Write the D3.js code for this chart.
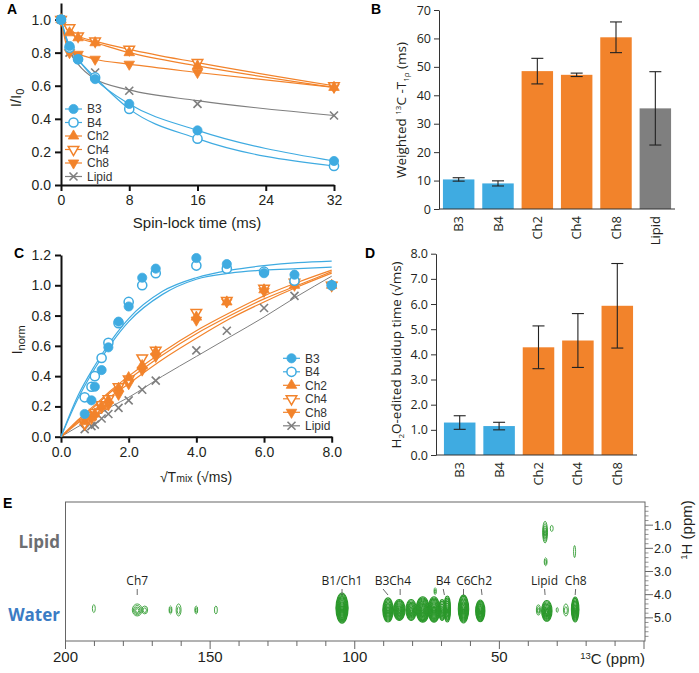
<!DOCTYPE html>
<html>
<head>
<meta charset="utf-8">
<script src="https://cdnjs.cloudflare.com/ajax/libs/d3/7.8.5/d3.min.js"></script>
<style>
body { margin: 0; background: #fff; }
svg  { display: block; font-family: "Liberation Sans", Arial, sans-serif; }
</style>
</head>
<body>
<svg id="fig" width="699" height="673"></svg>
<script>
'use strict';

// ---- A: 13C-T1rho decay (I/I0 vs spin-lock time) ----
var lockTimes     = [0, 1, 2, 4, 8, 16, 32];
var decayB3       = [1.00, 0.84, 0.76, 0.64, 0.49, 0.33, 0.145];
var decayB4       = [1.00, 0.83, 0.76, 0.65, 0.46, 0.28, 0.115];
var decayCh2      = [1.00, 0.92, 0.89, 0.86, 0.80, 0.72, 0.59];
var decayCh4      = [1.00, 0.95, 0.90, 0.87, 0.82, 0.74, 0.60];
var decayCh8      = [1.00, 0.80, 0.79, 0.76, 0.73, 0.68, 0.59];
var decayLipid    = [1.00, 0.80, 0.77, 0.68, 0.57, 0.49, 0.42];
var decayFitLipid = [1.00, 0.81, 0.73, 0.64, 0.575, 0.51, 0.42];

// ---- B: weighted T1rho ----
var t1rhoNames = ['B3', 'B4', 'Ch2', 'Ch4', 'Ch8', 'Lipid'];
var t1rho      = [10.4, 9.0, 48.5, 47.2, 60.4, 35.4];
var t1rhoErr   = [0.6, 0.9, 4.5, 0.6, 5.4, 12.9];

// ---- C: water-edited buildup (Inorm vs sqrt Tmix) ----
var mixRoots   = [0.7, 0.9, 1.0, 1.2, 1.4, 1.7, 2.0, 2.4, 2.8, 4.0, 4.9, 6.0, 6.9, 8.0];
var buildB3    = [0.15, 0.24, 0.33, 0.44, 0.59, 0.76, 0.86, 1.05, 1.11, 1.18, 1.14, 1.08, 1.07, 1.00];
var buildB4    = [0.26, 0.33, 0.40, 0.52, 0.62, 0.75, 0.89, 1.00, 1.08, 1.13, 1.11, 1.09, 1.03, 1.00];
var buildCh2   = [0.10, 0.13, 0.15, 0.20, 0.24, 0.32, 0.39, 0.47, 0.56, 0.79, 0.89, 0.97, 1.00, 1.00];
var buildCh4   = [0.09, 0.14, 0.16, 0.21, 0.25, 0.33, 0.38, 0.52, 0.57, 0.82, 0.90, 0.98, 1.02, 1.00];
var buildCh8   = [0.08, 0.12, 0.14, 0.19, 0.21, 0.28, 0.35, 0.44, 0.53, 0.77, 0.89, 0.96, 1.00, 1.00];
var buildLipid = [0.05, 0.07, 0.08, 0.12, 0.15, 0.19, 0.24, 0.31, 0.37, 0.57, 0.70, 0.85, 0.93, null];
var fitRoots   = [0, 0.5, 1, 1.5, 2, 3, 4, 5, 6, 7, 8];
var fitB3      = [0, 0.27, 0.47, 0.64, 0.78, 0.96, 1.05, 1.10, 1.13, 1.15, 1.16];
var fitB4      = [0, 0.25, 0.45, 0.62, 0.76, 0.94, 1.04, 1.08, 1.10, 1.11, 1.12];
var fitCh2     = [0, 0.11, 0.21, 0.31, 0.40, 0.56, 0.70, 0.82, 0.93, 1.02, 1.10];
var fitCh4     = [0, 0.10, 0.20, 0.30, 0.38, 0.54, 0.68, 0.80, 0.91, 1.00, 1.09];
var fitCh8     = [0, 0.09, 0.18, 0.27, 0.35, 0.51, 0.65, 0.78, 0.89, 0.99, 1.08];
var fitLipid   = [0, 0.066, 0.13, 0.20, 0.26, 0.40, 0.53, 0.66, 0.79, 0.93, 1.06];

// ---- D: H2O-edited buildup time ----
var buildupNames = ['B3', 'B4', 'Ch2', 'Ch4', 'Ch8'];
var buildupTime  = [1.29, 1.15, 4.28, 4.55, 5.93];
var buildupErr   = [0.27, 0.15, 0.85, 1.07, 1.68];

// ---- E: 2D water / lipid edited spectrum ----
var peakC      = [190.2, 175.2, 172.6, 163.7, 160.9, 154.8, 148.0, 104.4, 88.5, 84.6, 80.5, 76.5, 72.6, 69.8, 68.0, 72.2, 62.4, 56.6, 36.5, 33.6, 30.0, 27.0, 23.8, 34.2, 31.9, 34.0, 24.0];
var peakH      = [4.60, 4.66, 4.66, 4.66, 4.66, 4.66, 4.66, 4.58, 4.66, 4.66, 4.66, 4.64, 4.64, 4.66, 4.62, 3.85, 4.62, 4.70, 4.66, 4.70, 4.66, 4.66, 4.64, 1.30, 1.14, 2.58, 2.14];
var peakWidthC = [0.5, 1.7, 1.0, 0.5, 0.85, 0.5, 0.5, 2.1, 1.8, 2.0, 1.8, 2.3, 2.0, 1.2, 1.1, 0.4, 1.8, 1.6, 0.7, 1.8, 0.35, 0.85, 1.3, 0.85, 0.5, 0.5, 0.35];
var peakWidthH = [0.17, 0.26, 0.17, 0.17, 0.26, 0.17, 0.17, 0.65, 0.52, 0.45, 0.45, 0.55, 0.55, 0.45, 0.56, 0.15, 0.60, 0.47, 0.22, 0.45, 0.10, 0.26, 0.54, 0.47, 0.13, 0.17, 0.26];
var peakLevels = [1, 4, 2, 2, 2, 2, 1, 14, 10, 11, 9, 13, 12, 7, 8, 2, 12, 11, 3, 9, 1, 2, 10, 5, 1, 2, 1];
var peakLabels    = ['Ch7', 'B1/Ch1', 'B3', 'Ch4', 'B4', 'C6', 'Ch2', 'Lipid', 'Ch8'];
var peakLabelAt   = [175.2, 104.4, 90.6, 84.3, 69.5, 62.4, 56.3, 34.4, 23.6];
var peakLabelTick = [175.2, 104.4, 88.5, 84.3, 69.0, 62.4, 56.0, 34.2, 23.8];

var BLUE = '#3fabe1', ORANGE = '#f2832b', GRAY = '#7f7f7f', INK = '#231f20';
var MYRIAD = '"Open Sans", "Liberation Sans", sans-serif';

var style = {
    B3:    {color: BLUE,   shape: 'circle',  open: false},
    B4:    {color: BLUE,   shape: 'circle',  open: true},
    Ch2:   {color: ORANGE, shape: 'tri',     open: false},
    Ch4:   {color: ORANGE, shape: 'triDown', open: true},
    Ch8:   {color: ORANGE, shape: 'triDown', open: false},
    Lipid: {color: GRAY,   shape: 'x',       open: false}
};

var svg = d3.select('#fig');

function marker(g, name, px, py) {
    var s = style[name], m;
    if (s.shape === 'x') {
        m = g.append('path').attr('d', 'M-4,-4L4,4M-4,4L4,-4')
            .attr('stroke', s.color).attr('stroke-width', 1.6).attr('fill', 'none');
    } else {
        var sym = s.shape === 'circle' ? d3.symbol(d3.symbolCircle, 66) : d3.symbol(d3.symbolTriangle, 48);
        m = g.append('path').attr('d', sym())
            .attr('fill', s.open ? '#fff' : s.color)
            .attr('stroke', s.color).attr('stroke-width', s.open ? 1.5 : 0.8);
    }
    var rot = s.shape === 'triDown' ? ' rotate(180)' : '';
    m.attr('transform', 'translate(' + px + ',' + py + ')' + rot);
}

function thick(sel) {
    sel.attr('font-size', 14).attr('font-family', '"Liberation Sans", Arial, sans-serif');
    sel.selectAll('path.domain').attr('stroke', '#111').attr('stroke-width', 2);
    sel.selectAll('.tick line').attr('stroke', '#111').attr('stroke-width', 2);
    sel.selectAll('.tick text').attr('fill', INK);
}

function thin(sel) {
    sel.attr('font-size', 12.5).attr('font-family', MYRIAD);
    sel.selectAll('path.domain').attr('stroke', '#333').attr('stroke-width', 1);
    sel.selectAll('.tick line').attr('stroke', '#333').attr('stroke-width', 1);
    sel.selectAll('.tick text').attr('fill', INK);
}

function legend(g, x0, y0) {
    t1rhoNames.forEach(function(n, i) {
        var y = y0 + i * 13.5;
        g.append('line').attr('x1', x0).attr('x2', x0 + 17).attr('y1', y).attr('y2', y)
            .attr('stroke', style[n].color).attr('stroke-width', 1.2);
        marker(g, n, x0 + 8.5, y);
        g.append('text').attr('x', x0 + 22).attr('y', y).attr('dy', '0.35em')
            .attr('font-size', 12).attr('fill', '#333').text(n);
    });
}

function panelLetter(t, x, y) {
    svg.append('text').attr('x', x).attr('y', y).attr('font-weight', 'bold')
        .attr('font-size', 14).attr('fill', '#000').text(t);
}

// ---------------- A ----------------
(function() {
    var x = d3.scaleLinear().domain([0, 32]).range([61, 334]),
        y = d3.scaleLinear().domain([0, 1.1]).range([185, 3]),
        g = svg.append('g');

    g.append('g').attr('transform', 'translate(0,185)')
        .call(d3.axisBottom(x).tickValues([0, 8, 16, 24, 32]).tickSize(6).tickSizeOuter(0).tickPadding(4))
        .call(thick);
    g.append('g').attr('transform', 'translate(61,0)')
        .call(d3.axisLeft(y).tickValues([0, 0.2, 0.4, 0.6, 0.8, 1.0]).tickFormat(d3.format('.1f'))
            .tickSize(6).tickSizeOuter(0).tickPadding(4))
        .call(thick);

    var sets = {B3: decayB3, B4: decayB4, Ch2: decayCh2, Ch4: decayCh4, Ch8: decayCh8, Lipid: decayLipid};
    var line = d3.line().curve(d3.curveMonotoneX)
        .x(function(d, i) { return x(lockTimes[i]); })
        .y(function(d) { return y(d); });

    ['Lipid', 'Ch8', 'Ch4', 'Ch2', 'B4', 'B3'].forEach(function(n) {
        var vals = n === 'Lipid' ? decayFitLipid : sets[n];
        g.append('path').attr('d', line(vals)).attr('fill', 'none')
            .attr('stroke', style[n].color).attr('stroke-width', 1.2);
    });
    ['Lipid', 'Ch8', 'Ch4', 'Ch2', 'B4', 'B3'].forEach(function(n) {
        sets[n].forEach(function(v, i) { marker(g, n, x(lockTimes[i]), y(v)); });
    });

    legend(g, 65, 109);

    g.append('text').attr('transform', 'translate(21,98) rotate(-90)').attr('text-anchor', 'middle')
        .attr('font-size', 15).attr('fill', INK)
        .call(function(t) {
            t.append('tspan').text('I/I');
            t.append('tspan').attr('font-size', 11).attr('dy', 3).text('0');
        });
    g.append('text').attr('x', 197).attr('y', 228).attr('text-anchor', 'middle')
        .attr('font-size', 15).attr('fill', INK).text('Spin-lock time (ms)');
    panelLetter('A', 7, 14);
})();

// ---------------- bar panels ----------------
function barPanel(cfg) {
    var g = svg.append('g'),
        x = d3.scaleBand().domain(cfg.names).range(cfg.xRange).paddingInner(0.2).paddingOuter(0.1),
        y = d3.scaleLinear().domain(cfg.yDomain).range(cfg.yRange);

    g.selectAll('rect.bar').data(cfg.values).enter().append('rect')
        .attr('x', function(d, i) { return x(cfg.names[i]); })
        .attr('width', x.bandwidth())
        .attr('y', function(d) { return y(d); })
        .attr('height', function(d) { return y(0) - y(d); })
        .attr('fill', function(d, i) { return cfg.colors[cfg.names[i]]; });

    cfg.values.forEach(function(v, i) {
        var cx = x(cfg.names[i]) + x.bandwidth() / 2,
            e = cfg.errors[i];
        g.append('line').attr('x1', cx).attr('x2', cx).attr('y1', y(v - e)).attr('y2', y(v + e))
            .attr('stroke', '#222').attr('stroke-width', 1.1);
        [v - e, v + e].forEach(function(w) {
            g.append('line').attr('x1', cx - 6).attr('x2', cx + 6).attr('y1', y(w)).attr('y2', y(w))
                .attr('stroke', '#222').attr('stroke-width', 1.1);
        });
        g.append('text').attr('transform', 'translate(' + cx + ',' + (y(0) + 7) + ') rotate(-90)')
            .attr('text-anchor', 'end').attr('dy', '0.35em')
            .attr('font-family', MYRIAD).attr('font-size', 13).attr('fill', INK).text(cfg.names[i]);
    });

    g.append('line').attr('x1', cfg.axisX).attr('x2', cfg.xRange[1]).attr('y1', y(0)).attr('y2', y(0))
        .attr('stroke', '#333').attr('stroke-width', 1);
    g.append('g').attr('transform', 'translate(' + cfg.axisX + ',0)')
        .call(d3.axisLeft(y).tickValues(cfg.ticks).tickFormat(cfg.format).tickSize(5).tickSizeOuter(0).tickPadding(3))
        .call(thin);
    return g;
}

var barColors = {B3: BLUE, B4: BLUE, Ch2: ORANGE, Ch4: ORANGE, Ch8: ORANGE, Lipid: GRAY};

(function() {
    var g = barPanel({
        names: t1rhoNames, values: t1rho, errors: t1rhoErr, colors: barColors,
        xRange: [439, 675], axisX: 439, yDomain: [0, 70], yRange: [209, 10],
        ticks: d3.range(0, 71, 10), format: d3.format('d')
    });
    g.append('text').attr('transform', 'translate(406,110) rotate(-90)').attr('text-anchor', 'middle')
        .attr('font-family', MYRIAD).attr('font-size', 13.5).attr('fill', INK)
        .call(function(t) {
            t.append('tspan').text('Weighted ');
            t.append('tspan').attr('font-size', 8).attr('dy', -5).text('13');
            t.append('tspan').attr('dy', 5).text('C -T');
            t.append('tspan').attr('font-size', 8).attr('dy', 3).text('1\u03c1');
            t.append('tspan').attr('dy', -3).text(' (ms)');
        });
    panelLetter('B', 371, 14);
})();

(function() {
    var g = barPanel({
        names: buildupNames, values: buildupTime, errors: buildupErr, colors: barColors,
        xRange: [440, 637], axisX: 436, yDomain: [0, 8], yRange: [455, 253.7],
        ticks: d3.range(0, 8.1, 1), format: d3.format('.1f')
    });
    g.append('text').attr('transform', 'translate(401,355) rotate(-90)').attr('text-anchor', 'middle')
        .attr('font-family', MYRIAD).attr('font-size', 13.5).attr('fill', INK)
        .call(function(t) {
            t.append('tspan').text('H');
            t.append('tspan').attr('font-size', 8).attr('dy', 3).text('2');
            t.append('tspan').attr('dy', -3).text('O-edited buidup time (\u221ams)');
        });
    panelLetter('D', 365, 258);
})();

// ---------------- C ----------------
(function() {
    var x = d3.scaleLinear().domain([0, 8]).range([61, 331.7]),
        y = d3.scaleLinear().domain([0, 1.2]).range([436.7, 255]),
        g = svg.append('g');

    g.append('g').attr('transform', 'translate(0,436.7)')
        .call(d3.axisBottom(x).tickValues([0, 2, 4, 6, 8]).tickFormat(d3.format('.1f')).tickSize(6).tickSizeOuter(0).tickPadding(4))
        .call(thick);
    g.append('g').attr('transform', 'translate(61,0)')
        .call(d3.axisLeft(y).tickValues(d3.range(0, 1.21, 0.2)).tickFormat(d3.format('.1f')).tickSize(6).tickSizeOuter(0).tickPadding(4))
        .call(thick);

    var fits = {B3: fitB3, B4: fitB4, Ch2: fitCh2, Ch4: fitCh4, Ch8: fitCh8, Lipid: fitLipid},
        sets = {B3: buildB3, B4: buildB4, Ch2: buildCh2, Ch4: buildCh4, Ch8: buildCh8, Lipid: buildLipid};
    var line = d3.line().curve(d3.curveMonotoneX)
        .x(function(d, i) { return x(fitRoots[i]); })
        .y(function(d) { return y(d); });

    ['Lipid', 'Ch8', 'Ch4', 'Ch2', 'B4', 'B3'].forEach(function(n) {
        g.append('path').attr('d', line(fits[n])).attr('fill', 'none')
            .attr('stroke', style[n].color).attr('stroke-width', n === 'Lipid' ? 1 : 1.2);
    });
    ['Lipid', 'Ch8', 'Ch4', 'Ch2', 'B4', 'B3'].forEach(function(n) {
        sets[n].forEach(function(v, i) {
            if (v !== null) marker(g, n, x(mixRoots[i]), y(v));
        });
    });

    legend(g, 283, 358.3);

    g.append('text').attr('transform', 'translate(22,340) rotate(-90)').attr('text-anchor', 'middle')
        .attr('font-size', 15).attr('fill', INK)
        .call(function(t) {
            t.append('tspan').text('I');
            t.append('tspan').attr('font-size', 11).attr('dy', 3).text('norm');
        });
    g.append('text').attr('x', 196).attr('y', 482).attr('text-anchor', 'middle')
        .attr('font-size', 14).attr('fill', INK)
        .call(function(t) {
            t.append('tspan').text('\u221aT');
            t.append('tspan').attr('font-size', 10.5).text('mix');
            t.append('tspan').text(' (\u221ams)');
        });
    panelLetter('C', 14, 258);
})();

// ---------------- E ----------------
(function() {
    var x = d3.scaleLinear().domain([200, 0]).range([65.5, 644]),
        y = d3.scaleLinear().domain([0, 6]).range([502, 641]),
        g = svg.append('g');

    g.append('rect').attr('x', 65.5).attr('y', 502).attr('width', 645 - 65.5).attr('height', 139)
        .attr('fill', 'none').attr('stroke', '#666').attr('stroke-width', 1);

    // bottom 13C axis
    d3.range(200, -1, -10).forEach(function(v) {
        var major = v % 50 === 0;
        g.append('line').attr('x1', x(v)).attr('x2', x(v)).attr('y1', 641).attr('y2', 641 + (major ? 8 : 5))
            .attr('stroke', '#666').attr('stroke-width', 1);
        if (major && v > 0) {
            g.append('text').attr('x', x(v)).attr('y', 662).attr('text-anchor', 'middle')
                .attr('font-size', 15).attr('fill', INK).text(v);
        }
    });
    g.append('text').attr('x', 645).attr('y', 664).attr('text-anchor', 'end').attr('font-size', 15).attr('fill', INK)
        .call(function(t) {
            t.append('tspan').attr('font-size', 9.5).attr('dy', -5).text('13');
            t.append('tspan').attr('dy', 5).text('C (ppm)');
        });

    // right 1H axis
    d3.range(1, 30).forEach(function(k) {
        var v = k * 0.2, major = k % 5 === 0;
        g.append('line').attr('x1', 645).attr('x2', 645 + (major ? 8 : 3.5)).attr('y1', y(v)).attr('y2', y(v))
            .attr('stroke', '#666').attr('stroke-width', major ? 1 : 0.7);
        if (major) {
            g.append('text').attr('x', 654).attr('y', y(v)).attr('dy', '0.35em')
                .attr('font-size', 12.5).attr('fill', INK).text(d3.format('.1f')(v));
        }
    });
    g.append('text').attr('transform', 'translate(692,530) rotate(-90)').attr('text-anchor', 'middle')
        .attr('font-size', 15).attr('fill', INK)
        .call(function(t) {
            t.append('tspan').attr('font-size', 9.5).attr('dy', -5).text('1');
            t.append('tspan').attr('dy', 5).text('H (ppm)');
        });

    // contour peaks
    var pk = g.append('g').attr('fill', 'none').attr('stroke', '#2b982b');
    peakC.forEach(function(c, i) {
        var n = peakLevels[i],
            rx = Math.abs(x(c + peakWidthC[i]) - x(c)),
            ry = Math.abs(y(peakH[i] + peakWidthH[i]) - y(peakH[i]));
        for (var k = 0; k < n; k++) {
            var f = 1 - k / (n + 0.4);
            pk.append('ellipse').attr('cx', x(c)).attr('cy', y(peakH[i]) + (1 - f) * ry * 0.15)
                .attr('rx', rx * f).attr('ry', ry * f)
                .attr('stroke-width', n > 5 ? 1.1 : 0.85);
        }
    });

    // peak labels
    peakLabels.forEach(function(t, i) {
        g.append('text').attr('x', x(peakLabelAt[i])).attr('y', 585).attr('text-anchor', 'middle')
            .attr('font-family', MYRIAD).attr('font-size', 12).attr('fill', INK).text(t);
        g.append('line').attr('x1', x(peakLabelAt[i]) + (peakLabelAt[i] - peakLabelTick[i]) * 0.5)
            .attr('x2', x(peakLabelTick[i])).attr('y1', 589).attr('y2', 595)
            .attr('stroke', '#444').attr('stroke-width', 0.8);
    });

    g.append('text').attr('x', 60).attr('y', 548).attr('text-anchor', 'end').attr('font-weight', 'bold')
        .attr('font-family', MYRIAD).attr('font-size', 17).attr('fill', '#6d6e71').text('Lipid');
    g.append('text').attr('x', 60).attr('y', 621).attr('text-anchor', 'end').attr('font-weight', 'bold')
        .attr('font-family', MYRIAD).attr('font-size', 17).attr('fill', '#3b7cc4').text('Water');
    panelLetter('E', 3, 508);
})();
</script>
</body>
</html>
